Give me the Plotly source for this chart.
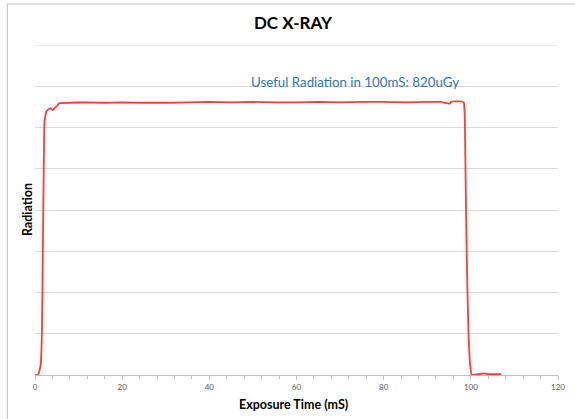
import plotly.graph_objects as go

# Exposure time (mS) and radiation (relative units)
time_ms = [0, 0.7, 1.3, 1.6, 1.8, 2.0, 2.1, 2.2, 2.65, 3.1, 3.55, 4.1, 4.5, 5.0, 5.6,
           8, 12, 16, 20, 25, 30, 35, 40, 45, 50, 55, 60, 65, 70, 75, 80, 85, 90,
           93, 95.2, 95.5, 98.0, 98.4, 98.6, 98.75, 98.9, 99.15, 99.46, 99.85, 100.2,
           101, 102.5, 103.2, 104, 105.5, 107]
radiation = [0, 0, 0.24, 1.09, 3.03, 4.99, 5.82, 6.18, 6.40, 6.44, 6.47, 6.42, 6.47, 6.52, 6.59,
             6.60, 6.61, 6.60, 6.61, 6.60, 6.60, 6.61, 6.62, 6.61, 6.62, 6.61, 6.61, 6.62, 6.61, 6.62, 6.62, 6.61, 6.62,
             6.62, 6.58, 6.63, 6.63, 6.60, 6.30, 5.20, 3.93, 2.40, 1.02, 0.24, 0,
             0.01, 0.03, 0.04, 0.02, 0.02, 0.02]

title_text = "DC X-RAY"
x_title = "Exposure Time (mS)"
y_title = "Radiation"
note_text = "Useful Radiation in 100mS: 820uGy"
x_ticks = [0, 20, 40, 60, 80, 100, 120]
y_max = 8

FONT = "Lato"
GRID = "#D9D9D9"

fig = go.Figure()
fig.add_trace(go.Scatter(
    x=time_ms, y=radiation, mode="lines",
    line=dict(color="#FF3B3B", width=1.8, shape="spline", smoothing=0.3),
    hoverinfo="skip", showlegend=False,
))

fig.update_layout(
    width=575, height=419,
    margin=dict(l=35, r=10, t=45, b=44),
    paper_bgcolor="white", plot_bgcolor="white",
    font=dict(family=FONT, color="#404040"),
    title=dict(text="<b>" + title_text + "</b>", x=293 / 575, xanchor="center",
               y=1 - 23 / 419, yanchor="middle",
               font=dict(family=FONT, size=17, color="#000000")),
    xaxis=dict(range=[0, 120], tickvals=x_ticks, ticktext=[str(v) for v in x_ticks],
               showgrid=False, zeroline=False,
               showline=True, linecolor="#BFBFBF", linewidth=1,
               ticks="outside", ticklen=4, tickcolor="#BFBFBF",
               minor=dict(dtick=4, ticks="outside", ticklen=3, tickcolor="#BFBFBF"),
               tickfont=dict(family=FONT, size=8, color="#595959"),
               fixedrange=True),
    yaxis=dict(range=[0, y_max], tick0=0, dtick=1, showgrid=True, gridcolor=GRID, gridwidth=1,
               zeroline=False, showline=False, showticklabels=False, ticks="",
               fixedrange=True),
    shapes=[
        dict(type="rect", xref="paper", yref="paper",
             x0=(7 - 35) / 530, x1=1.2, y0=-0.3, y1=(375 - 4) / 330,
             line=dict(color="#C0C0C0", width=1), layer="below"),
        dict(type="line", xref="paper", yref="y", x0=0, x1=1, y0=y_max, y1=y_max,
             line=dict(color=GRID, width=1), layer="below"),
    ],
    annotations=[
        dict(text=note_text, xref="x", yref="y", x=73.4, y=7.10,
             showarrow=False, font=dict(family=FONT, size=13.3, color="#2E75B6")),
        dict(text="<b>" + x_title + "</b>", xref="paper", yref="paper",
             x=(297 - 35) / 530, y=(375 - 404) / 330, showarrow=False,
             xanchor="center", yanchor="middle",
             font=dict(family=FONT, size=12.5, color="#000000")),
        dict(text="<b>" + y_title + "</b>", xref="paper", yref="paper",
             x=(27 - 35) / 530, y=(375 - 210) / 330, showarrow=False, textangle=-90,
             xanchor="center", yanchor="middle",
             font=dict(family=FONT, size=12.5, color="#000000")),
    ],
)

fig.write_html("out.html", config={"displayModeBar": False},
               post_script="document.body.style.margin='0';document.body.style.overflow='hidden';")
